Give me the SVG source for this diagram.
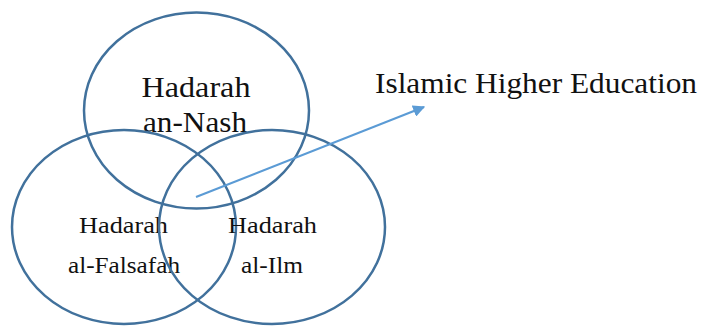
<svg xmlns="http://www.w3.org/2000/svg" width="705" height="326" viewBox="0 0 705 326">
<style>
.c{fill:none;stroke:#41719c;stroke-width:2.5}
.t{font-family:"Liberation Serif","Times New Roman",serif;fill:#111;text-anchor:middle}
.big{font-size:30px}
.mid{font-size:24px}
</style>
<defs>
<marker id="ah" viewBox="0 0 10 10" refX="9" refY="5" markerWidth="5.5" markerHeight="5.5" markerUnits="strokeWidth" orient="auto">
<path d="M0,0 L10,5 L0,10 z" fill="#5b9bd5"/>
</marker>
</defs>
<g id="nash">
<ellipse class="c" cx="196.5" cy="110.5" rx="112.5" ry="98"/>
<text class="t big" x="196" y="97" textLength="109" lengthAdjust="spacingAndGlyphs">Hadarah</text>
<text class="t big" x="195" y="132" textLength="104" lengthAdjust="spacingAndGlyphs">an-Nash</text>
</g>
<g id="falsafah">
<ellipse class="c" cx="124" cy="227" rx="112" ry="97"/>
<text class="t mid" x="123.5" y="233" textLength="89" lengthAdjust="spacingAndGlyphs">Hadarah</text>
<text class="t mid" x="124" y="273" textLength="112" lengthAdjust="spacingAndGlyphs">al-Falsafah</text>
</g>
<g id="ilm">
<ellipse class="c" cx="272" cy="227" rx="113" ry="97"/>
<text class="t mid" x="272.5" y="233" textLength="89" lengthAdjust="spacingAndGlyphs">Hadarah</text>
<text class="t mid" x="272" y="273" textLength="62" lengthAdjust="spacingAndGlyphs">al-Ilm</text>
</g>
<g id="ihe">
<text class="t big" x="536" y="93" textLength="322" lengthAdjust="spacingAndGlyphs">Islamic Higher Education</text>
</g>
<g id="connectors">
<line x1="196" y1="197" x2="424" y2="107" stroke="#5b9bd5" stroke-width="2.2" marker-end="url(#ah)"/>
</g>
</svg>
